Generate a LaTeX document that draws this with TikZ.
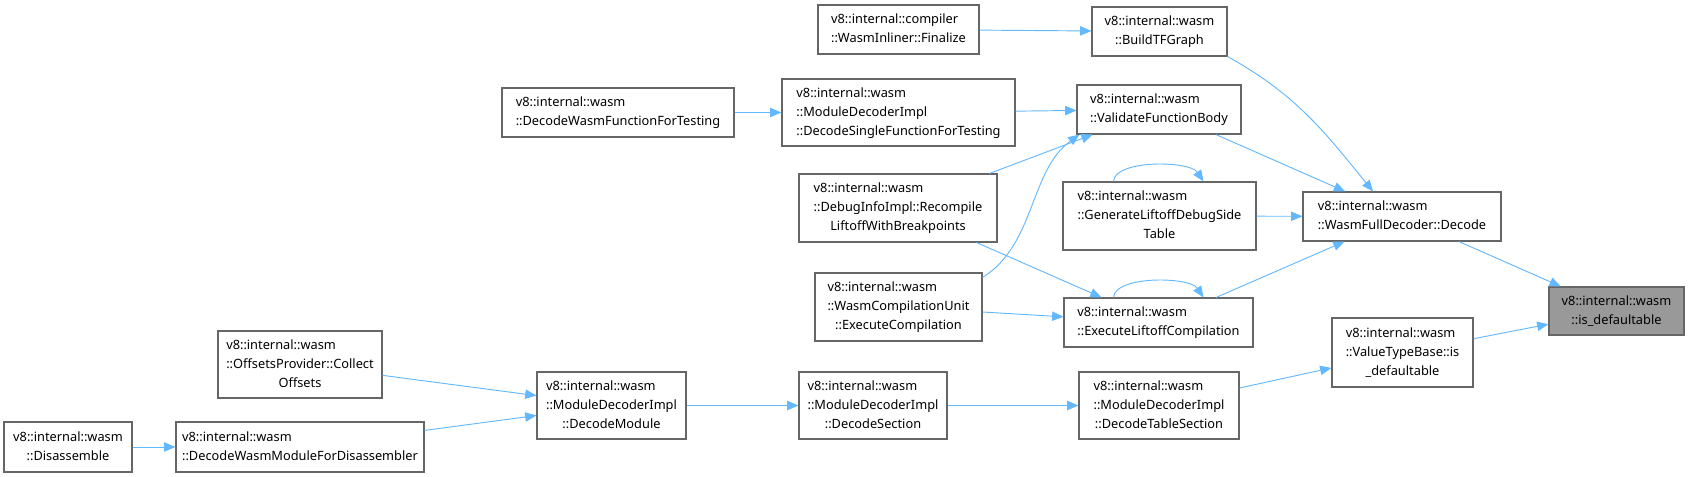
\documentclass[tikz,border=0pt]{standalone}
\usepackage{fontspec}
\setmainfont{Noto Sans}
\usepackage{tikz}
\usetikzlibrary{arrows.meta, calc}
\definecolor{edgeblue}{HTML}{63B8FF}
\definecolor{boxgray}{HTML}{666666}
\definecolor{curgray}{HTML}{999999}
\newcommand{\fnlbl}[2]{\begin{tabular}{@{}l@{}}#1\\\multicolumn{1}{@{}c@{}}{#2}\end{tabular}}

\begin{document}
\begin{tikzpicture}[
    x=0.75pt, y=-0.75pt,
    every node/.style={font=\fontsize{9.6}{14.25}\selectfont},
    fn/.style 2 args={draw=boxgray, fill=white, line width=0.8pt, inner sep=0pt, minimum width=#1*0.75pt, minimum height=#2*0.75pt},
    cur/.style 2 args={fn={#1}{#2}, fill=curgray},
    edge/.style={-{Triangle[length=8.5pt, width=7pt]}, draw=edgeblue, line width=0.7pt}
]
    \useasboundingbox (0,0) rectangle (1690,477);

    \node[cur={135}{48}] (isdef) at (1616.5,311) {\fnlbl{v8::internal::wasm}{::is\_defaultable}};
    \node[fn={198}{49}] (decode) at (1402,216.5) {\fnlbl{v8::internal::wasm}{::WasmFullDecoder::Decode}};
    \node[fn={141}{69}] (vtb) at (1402.5,352.5) {\fnlbl{v8::internal::wasm\\::ValueTypeBase::is}{\_defaultable}};

    \node[fn={135}{49}] (buildtf) at (1159.5,31.5) {\fnlbl{v8::internal::wasm}{::BuildTFGraph}};
    \node[fn={164}{49}] (validate) at (1159,109.5) {\fnlbl{v8::internal::wasm}{::ValidateFunctionBody}};
    \node[fn={193}{68}] (genside) at (1159.5,216) {\fnlbl{v8::internal::wasm\\::GenerateLiftoffDebugSide}{Table}};
    \node[fn={189}{49}] (execliftoff) at (1158.5,322.5) {\fnlbl{v8::internal::wasm}{::ExecuteLiftoffCompilation}};
    \node[fn={160}{67}] (dectable) at (1159,405.5) {\fnlbl{v8::internal::wasm\\::ModuleDecoderImpl}{::DecodeTableSection}};

    \node[fn={161}{49}] (finalize) at (898.5,29.5) {\fnlbl{v8::internal::compiler}{::WasmInliner::Finalize}};
    \node[fn={233}{67}] (singlefn) at (898.5,112.5) {\fnlbl{v8::internal::wasm\\::ModuleDecoderImpl}{::DecodeSingleFunctionForTesting}};
    \node[fn={198}{68}] (recompile) at (898,208) {\fnlbl{v8::internal::wasm\\::DebugInfoImpl::Recompile}{LiftoffWithBreakpoints}};
    \node[fn={167}{68}] (execcomp) at (898.5,307) {\fnlbl{v8::internal::wasm\\::WasmCompilationUnit}{::ExecuteCompilation}};
    \node[fn={148}{67}] (decsection) at (873,405.5) {\fnlbl{v8::internal::wasm\\::ModuleDecoderImpl}{::DecodeSection}};

    \node[fn={232}{49}] (wasmfntest) at (618,112.5) {\fnlbl{v8::internal::wasm}{::DecodeWasmFunctionForTesting}};
    \node[fn={149}{67}] (decmodule) at (611.5,405.5) {\fnlbl{v8::internal::wasm\\::ModuleDecoderImpl}{::DecodeModule}};
    \node[fn={164}{67}] (collect) at (300,364.5) {\fnlbl{v8::internal::wasm\\::OffsetsProvider::Collect}{Offsets}};
    \node[fn={248}{50}] (fordisasm) at (300,447) {\fnlbl{v8::internal::wasm}{::DecodeWasmModuleForDisassembler}};
    \node[fn={128}{50}] (disasm) at (68,447) {\fnlbl{v8::internal::wasm}{::Disassemble}};

    \draw[edge] (decode) -- (isdef);
    \draw[edge] (vtb) -- (isdef);
    \draw[edge] (buildtf.south east) to[out=-29, in=129] ($(decode.north)+(-29,0)$);
    \draw[edge] (validate) -- (decode);
    \draw[edge] (genside) -- (decode);
    \draw[edge] (execliftoff) -- (decode);
    \draw[edge] ($(genside.north)+(-46,0)$) .. controls +(1,-22) and +(-14,-21) .. ($(genside.north)+(44,0)$);
    \draw[edge] ($(execliftoff.north)+(-45,0)$) .. controls +(1,-22) and +(-14,-21) .. ($(execliftoff.north)+(45,0)$);
    \draw[edge] (finalize) -- (buildtf);
    \draw[edge] (singlefn) -- (validate);
    \draw[edge] (wasmfntest) -- (singlefn);
    \draw[edge] (recompile) -- (validate);
    \draw[edge] ($(execcomp.north east)+(0,5)$) .. controls +(53,-33) and +(-50,36) .. ($(validate.south west)+(3,0)$);
    \draw[edge] (recompile) -- (execliftoff);
    \draw[edge] (execcomp) -- (execliftoff);
    \draw[edge] (dectable) -- (vtb);
    \draw[edge] (decsection) -- (dectable);
    \draw[edge] (decmodule) -- (decsection);
    \draw[edge] (collect) -- (decmodule);
    \draw[edge] (fordisasm) -- (decmodule);
    \draw[edge] (disasm) -- (fordisasm);
\end{tikzpicture}
\end{document}
